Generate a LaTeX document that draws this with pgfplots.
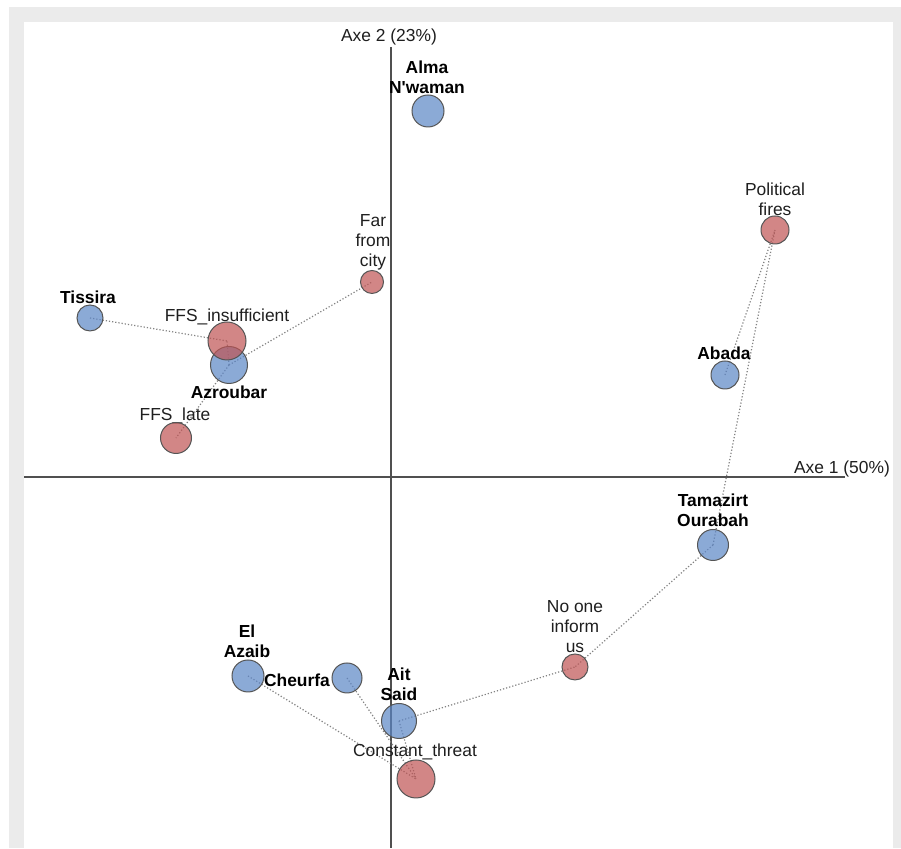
\documentclass[border=0pt]{standalone}
\usepackage{fontspec}
\setmainfont{Liberation Sans}
\usepackage{pgfplots}
\usepackage{pgfplotstable}
\pgfplotsset{compat=1.18}
\definecolor{frame}{RGB}{235,235,235}
\definecolor{bluefill}{RGB}{91,134,198}
\definecolor{redfill}{RGB}{191,84,84}
\definecolor{edge}{RGB}{85,85,85}
\definecolor{axisline}{RGB}{80,80,80}
\definecolor{dotline}{RGB}{130,130,130}

% villages (axis 1, axis 2, radius in px)
\pgfplotstableread{
name x y r
Alma 0.37 3.66 16
Tissira -3.01 1.59 13
Azroubar -1.62 1.12 18.5
Abada 3.34 1.02 14
Tamazirt 3.22 -0.68 15.5
ElAzaib -1.43 -1.99 16
Cheurfa -0.44 -2.01 15
AitSaid 0.08 -2.44 17.5
}\villages
% reasons
\pgfplotstableread{
name x y r
Political 3.84 2.47 14
FarCity -0.19 1.95 11.5
FFSins -1.64 1.36 19
FFSlate -2.15 0.39 15.5
NoOne 1.84 -1.90 13
Constant 0.25 -3.02 19
}\reasons

\tikzset{
  lab/.style={font=\fontsize{8.7}{10}\selectfont, text=black!88, align=center, inner sep=0pt},
  blab/.style={font=\fontsize{8.7}{10}\selectfont\bfseries, text=black, align=center, inner sep=0pt},
}

\begin{document}
\begin{tikzpicture}
\begin{axis}[
  scale only axis, width=450.5pt, height=424pt,
  xmin=-3.91, xmax=5.10, ymin=-3.71, ymax=4.77,
  hide axis, clip=false,
]
% frame
\fill[white] (axis cs:-3.91,-3.71) rectangle (axis cs:5.10,4.77);
\fill[frame] (axis cs:-3.82,-3.71) rectangle (axis cs:5.10,4.70);
\fill[white] (axis cs:-3.67,-3.71) rectangle (axis cs:5.02,4.55);
% axes
\draw[axisline, line width=1pt] (axis cs:-3.67,0) -- (axis cs:4.54,0);
\draw[axisline, line width=1pt] (axis cs:0,-3.71) -- (axis cs:0,4.30);
\node[lab] at (axis cs:-0.02,4.40) {Axe 2 (23\%)};
\node[lab] at (axis cs:4.51,0.08) {Axe 1 (50\%)};
% links
\pgfplotsset{link/.style={dotline, densely dotted, line width=0.6pt, no marks}}
\addplot[link] coordinates {(-3.01,1.59) (-1.64,1.36)};
\addplot[link] coordinates {(-1.62,1.12) (-1.64,1.36)};
\addplot[link] coordinates {(-1.62,1.12) (-0.19,1.95)};
\addplot[link] coordinates {(-1.62,1.12) (-2.15,0.39)};
\addplot[link] coordinates {(3.34,1.02) (3.84,2.47)};
\addplot[link] coordinates {(3.22,-0.68) (3.84,2.47)};
\addplot[link] coordinates {(3.22,-0.68) (1.84,-1.90)};
\addplot[link] coordinates {(0.08,-2.44) (1.84,-1.90)};
\addplot[link] coordinates {(0.08,-2.44) (0.25,-3.02)};
\addplot[link] coordinates {(-0.44,-2.01) (0.25,-3.02)};
\addplot[link] coordinates {(-1.43,-1.99) (0.25,-3.02)};
% circles
\addplot[scatter, only marks, mark=*,
  scatter/use mapped color={draw=edge, fill=bluefill, fill opacity=0.7, line width=0.5pt},
  visualization depends on={0.5*\thisrow{r} \as \rad},
  scatter/@pre marker code/.append style={/tikz/mark size=\rad}]
  table[x=x, y=y] {\villages};
\addplot[scatter, only marks, mark=*,
  scatter/use mapped color={draw=edge, fill=redfill, fill opacity=0.7, line width=0.5pt},
  visualization depends on={0.5*\thisrow{r} \as \rad},
  scatter/@pre marker code/.append style={/tikz/mark size=\rad}]
  table[x=x, y=y] {\reasons};
% village labels
\node[blab] at (axis cs:0.36,4.00) {Alma\\N\textquotesingle waman};
\node[blab] at (axis cs:-3.03,1.80) {Tissira};
\node[blab] at (axis cs:-1.62,0.85) {Azroubar};
\node[blab] at (axis cs:3.33,1.24) {Abada};
\node[blab] at (axis cs:3.22,-0.33) {Tamazirt\\Ourabah};
\node[blab] at (axis cs:-1.44,-1.64) {El\\Azaib};
\node[blab] at (axis cs:-0.94,-2.03) {Cheurfa};
\node[blab] at (axis cs:0.08,-2.07) {Ait\\Said};
% reason labels
\node[lab] at (axis cs:3.84,2.78) {Political\\fires};
\node[lab] at (axis cs:-0.18,2.35) {Far\\from\\city};
\node[lab] at (axis cs:-1.64,1.60) {FFS\_insufficient};
\node[lab] at (axis cs:-2.16,0.61) {FFS\_late};
\node[lab] at (axis cs:1.84,-1.50) {No one\\inform\\us};
\node[lab] at (axis cs:0.24,-2.75) {Constant\_threat};
\end{axis}
\end{tikzpicture}
\end{document}
